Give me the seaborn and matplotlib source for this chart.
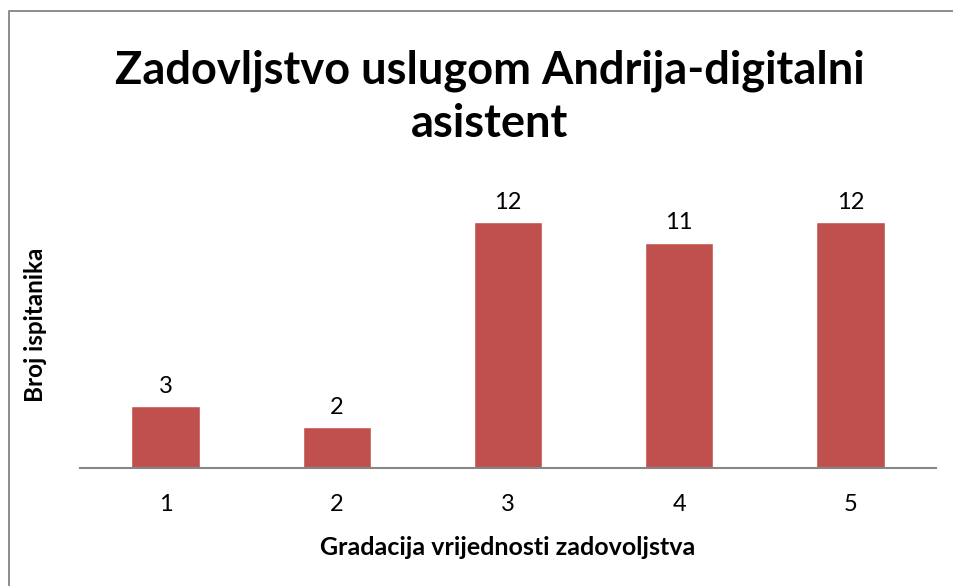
import matplotlib
matplotlib.use("Agg")
import matplotlib.pyplot as plt
import seaborn as sns
import pandas as pd
from matplotlib.lines import Line2D

ocjene = ["1", "2", "3", "4", "5"]
broj = [3, 2, 12, 11, 12]

sns.set_style("white")
plt.rcParams['font.family'] = ['Lato', 'DejaVu Sans']
plt.rcParams['text.color'] = 'black'
plt.rcParams['axes.labelcolor'] = 'black'
plt.rcParams['xtick.color'] = 'black'

df = pd.DataFrame({"ocjena": ocjene, "broj": broj})

fig = plt.figure(figsize=(9.54, 5.86), dpi=100)
ax = fig.add_axes([0.0839, 0.2014, 0.8971, 0.4896])

sns.barplot(data=df, x="ocjena", y="broj", color="#C0504D", width=0.4,
            saturation=1, ax=ax)

for i, v in enumerate(broj):
    ax.text(i, v + 0.45, str(v), ha="center", va="bottom", fontsize=17)

ax.set_xlim(-0.5, 4.5)
ax.set_ylim(0, 14)
ax.set_yticks([])
ax.tick_params(axis="x", length=0, labelsize=17, pad=19)
for s in ["top", "right", "left"]:
    ax.spines[s].set_visible(False)
ax.spines["bottom"].set_color("#868686")
ax.spines["bottom"].set_linewidth(1.5)

ax.set_xlabel("Gradacija vrijednosti zadovoljstva", fontsize=18, fontweight="bold", labelpad=15)
ax.set_ylabel("Broj ispitanika", fontsize=17.5, fontweight="bold", labelpad=24)

fig.text(490 / 954, 0.834, "Zadovljstvo uslugom Andrija-digitalni\nasistent", ha="center", va="center",
         fontsize=32.5, fontweight="bold", linespacing=1.3)

# frame: only left and top edges fall inside the picture
fig.lines.append(Line2D([9.5 / 954, 9.5 / 954, 1.0], [0.0, 1 - 11 / 586, 1 - 11 / 586],
                        transform=fig.transFigure, color="#8C8C8C", linewidth=1.4))

fig.savefig("out.png", dpi=100)
